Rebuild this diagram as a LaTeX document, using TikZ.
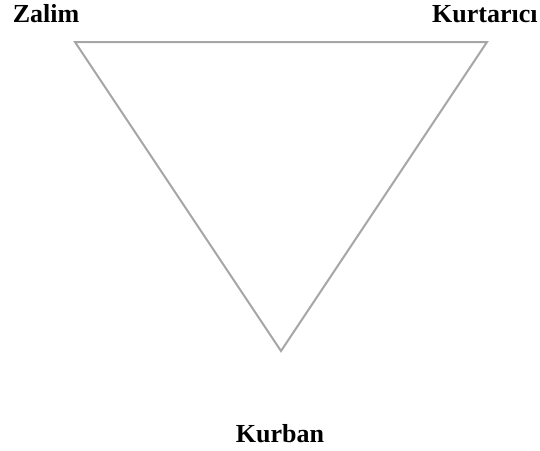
\documentclass[tikz,border=0pt]{standalone}
\usepackage{fontspec}
\setmainfont{Liberation Serif}
\begin{document}
\begin{tikzpicture}[x=1pt,y=-1pt,
  lbl/.style={font=\fontsize{26}{30}\selectfont\bfseries, inner sep=0pt},
  edge/.style={draw=black!35, line width=2pt}]
\useasboundingbox (0,0) rectangle (540,450);
\coordinate (z) at (75,42);
\coordinate (k) at (487,42);
\coordinate (b) at (281,351);
\draw[edge, line join=miter] (z) -- (k) -- (b) -- cycle;
\node[lbl, anchor=base] (zl) at (46,22) {Zalim};
\node[lbl, anchor=base west] (kl) at (432,22) {Kurtarıcı};
\node[lbl, anchor=base] (bl) at (280,442) {Kurban};
\end{tikzpicture}
\end{document}
